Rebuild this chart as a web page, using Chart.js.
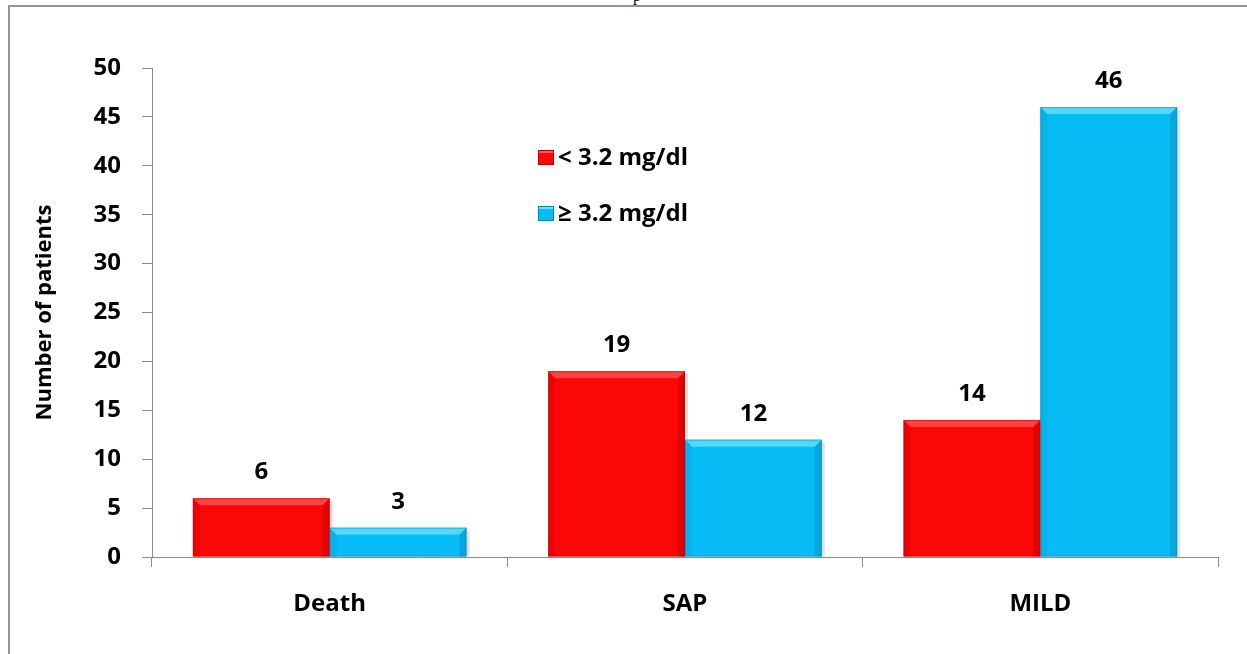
<!DOCTYPE html>
<html>
<head>
<meta charset="utf-8">
<script src="https://cdn.jsdelivr.net/npm/chart.js@4.4.1/dist/chart.umd.min.js"></script>
<style>
  html, body { margin: 0; padding: 0; background: #fff; overflow: hidden; }
  #wrap { position: relative; width: 1247px; height: 654px; overflow: hidden; }
  #frame { position: absolute; left: 8px; top: 5px; width: 1400px; height: 800px;
           border-left: 2px solid #959595; border-top: 2px solid #959595; }
  #head { position: absolute; left: 633px; top: -13px; font: 16px "Liberation Serif", serif; color: #000; }
  canvas { position: absolute; left: 0; top: 0; }
</style>
</head>
<body>
<div id="wrap">
  <div id="frame"></div>
  <div id="head">p</div>
  <canvas id="c" width="1247" height="654"></canvas>
</div>
<script>
// Outcome groups and patient counts per serum level group
const categories = ["Death", "SAP", "MILD"];
const seriesNames = ["< 3.2 mg/dl", "\u2265 3.2 mg/dl"];
const lowValues = [6, 19, 14];
const highValues = [3, 12, 46];
const yTicks = [0, 5, 10, 15, 20, 25, 30, 35, 40, 45, 50];

const FONT = "'Open Sans', sans-serif";
const FSIZE = 24;
const palette = [
  { main: "#fb0707", light: "#ff5a5a", dark: "#b80000" },
  { main: "#08bcf6", light: "#6fe6ff", dark: "#0787b8" }
];

// Bevel shading and a soft shadow on every bar, using the bar geometry computed by Chart.js
const bevelPlugin = {
  id: "bevel",
  beforeDatasetsDraw(chart) {
    const ctx = chart.ctx;
    ctx.save();
    ctx.fillStyle = "rgba(0,0,0,0.12)";
    chart.data.datasets.forEach((ds, di) => {
      chart.getDatasetMeta(di).data.forEach(bar => {
        const { x, y, base, width } = bar.getProps(["x", "y", "base", "width"], true);
        ctx.fillRect(x - width / 2 + 3, y + 3, width, base - y - 3);
      });
    });
    ctx.restore();
  },
  afterDatasetsDraw(chart) {
    const ctx = chart.ctx;
    chart.data.datasets.forEach((ds, di) => {
      const meta = chart.getDatasetMeta(di);
      const col = palette[di];
      meta.data.forEach(bar => {
        const { x, y, base, width } = bar.getProps(["x", "y", "base", "width"], true);
        const l = x - width / 2, r = x + width / 2, t = y, b = base;
        const e = 7;
        ctx.save();
        // top face
        ctx.fillStyle = col.light;
        ctx.globalAlpha = 0.7;
        ctx.beginPath();
        ctx.moveTo(l, t); ctx.lineTo(r, t); ctx.lineTo(r - e, t + e); ctx.lineTo(l + e, t + e); ctx.closePath();
        ctx.fill();
        // right face
        ctx.fillStyle = col.dark;
        ctx.globalAlpha = 0.4;
        ctx.beginPath();
        ctx.moveTo(r, t); ctx.lineTo(r, b); ctx.lineTo(r - e, b); ctx.lineTo(r - e, t + e); ctx.closePath();
        ctx.fill();
        // left face
        ctx.globalAlpha = 0.2;
        ctx.beginPath();
        ctx.moveTo(l, t); ctx.lineTo(l + e, t + e); ctx.lineTo(l + e, b); ctx.lineTo(l, b); ctx.closePath();
        ctx.fill();
        ctx.globalAlpha = 0.55;
        ctx.strokeStyle = col.dark;
        ctx.lineWidth = 1;
        ctx.strokeRect(l + 0.5, t + 0.5, width - 1, b - t - 1);
        ctx.restore();
      });
    });
  }
};

// Value labels above each bar
const valueLabelPlugin = {
  id: "valueLabels",
  afterDatasetsDraw(chart) {
    const ctx = chart.ctx;
    ctx.save();
    ctx.font = "bold " + FSIZE + "px " + FONT;
    ctx.fillStyle = "#000";
    ctx.textAlign = "center";
    ctx.textBaseline = "alphabetic";
    chart.data.datasets.forEach((ds, di) => {
      chart.getDatasetMeta(di).data.forEach((bar, i) => {
        const { x, y } = bar.getProps(["x", "y"], true);
        ctx.fillText(String(ds.data[i]), x, y - 19);
      });
    });
    ctx.restore();
  }
};

// Legend placed inside the plot area
const innerLegendPlugin = {
  id: "innerLegend",
  afterDraw(chart) {
    const ctx = chart.ctx;
    const x0 = 538, baselines = [165, 221];
    ctx.save();
    ctx.font = "bold " + FSIZE + "px " + FONT;
    ctx.textBaseline = "alphabetic";
    ctx.textAlign = "left";
    chart.data.datasets.forEach((ds, di) => {
      const bl = baselines[di];
      const top = bl - 15;
      const col = palette[di];
      ctx.fillStyle = col.main;
      ctx.fillRect(x0, top, 16, 15);
      ctx.fillStyle = col.light;
      ctx.fillRect(x0, top, 16, 3);
      ctx.strokeStyle = col.dark;
      ctx.lineWidth = 1;
      ctx.strokeRect(x0 + 0.5, top + 0.5, 15, 14);
      ctx.fillStyle = "#000";
      ctx.fillText(ds.label, x0 + 20, bl);
    });
    ctx.restore();
  }
};

new Chart(document.getElementById("c"), {
  type: "bar",
  data: {
    labels: categories,
    datasets: [
      { label: seriesNames[0], data: lowValues, backgroundColor: palette[0].main,
        categoryPercentage: 0.77, barPercentage: 1.0 },
      { label: seriesNames[1], data: highValues, backgroundColor: palette[1].main,
        categoryPercentage: 0.77, barPercentage: 1.0 }
    ]
  },
  options: {
    responsive: false,
    animation: false,
    events: [],
    layout: { padding: { top: 68, right: 29, left: 0, bottom: 0 } },
    plugins: { legend: { display: false }, tooltip: { enabled: false } },
    scales: {
      x: {
        grid: { display: true, drawOnChartArea: false, tickLength: 10, color: "#8a8a8a", offset: true },
        border: { color: "#8a8a8a", width: 1 },
        ticks: { color: "#000", font: { family: FONT, size: FSIZE, weight: "bold" }, padding: 23 },
        afterFit(scale) { scale.height = 97; }
      },
      y: {
        min: 0, max: 50,
        afterBuildTicks(scale) { scale.ticks = yTicks.map(v => ({ value: v })); },
        grid: { display: true, drawOnChartArea: false, tickLength: 10, color: "#8a8a8a" },
        border: { color: "#8a8a8a", width: 1 },
        ticks: { color: "#000", font: { family: FONT, size: FSIZE, weight: "bold" }, padding: 21 },
        title: { display: true, text: "Number of patients", color: "#000",
                 font: { family: FONT, size: 22, weight: "bold" }, padding: { top: 32, bottom: 0 } },
        afterFit(scale) { scale.width = 152; }
      }
    }
  },
  plugins: [bevelPlugin, valueLabelPlugin, innerLegendPlugin]
});
</script>
</body>
</html>
